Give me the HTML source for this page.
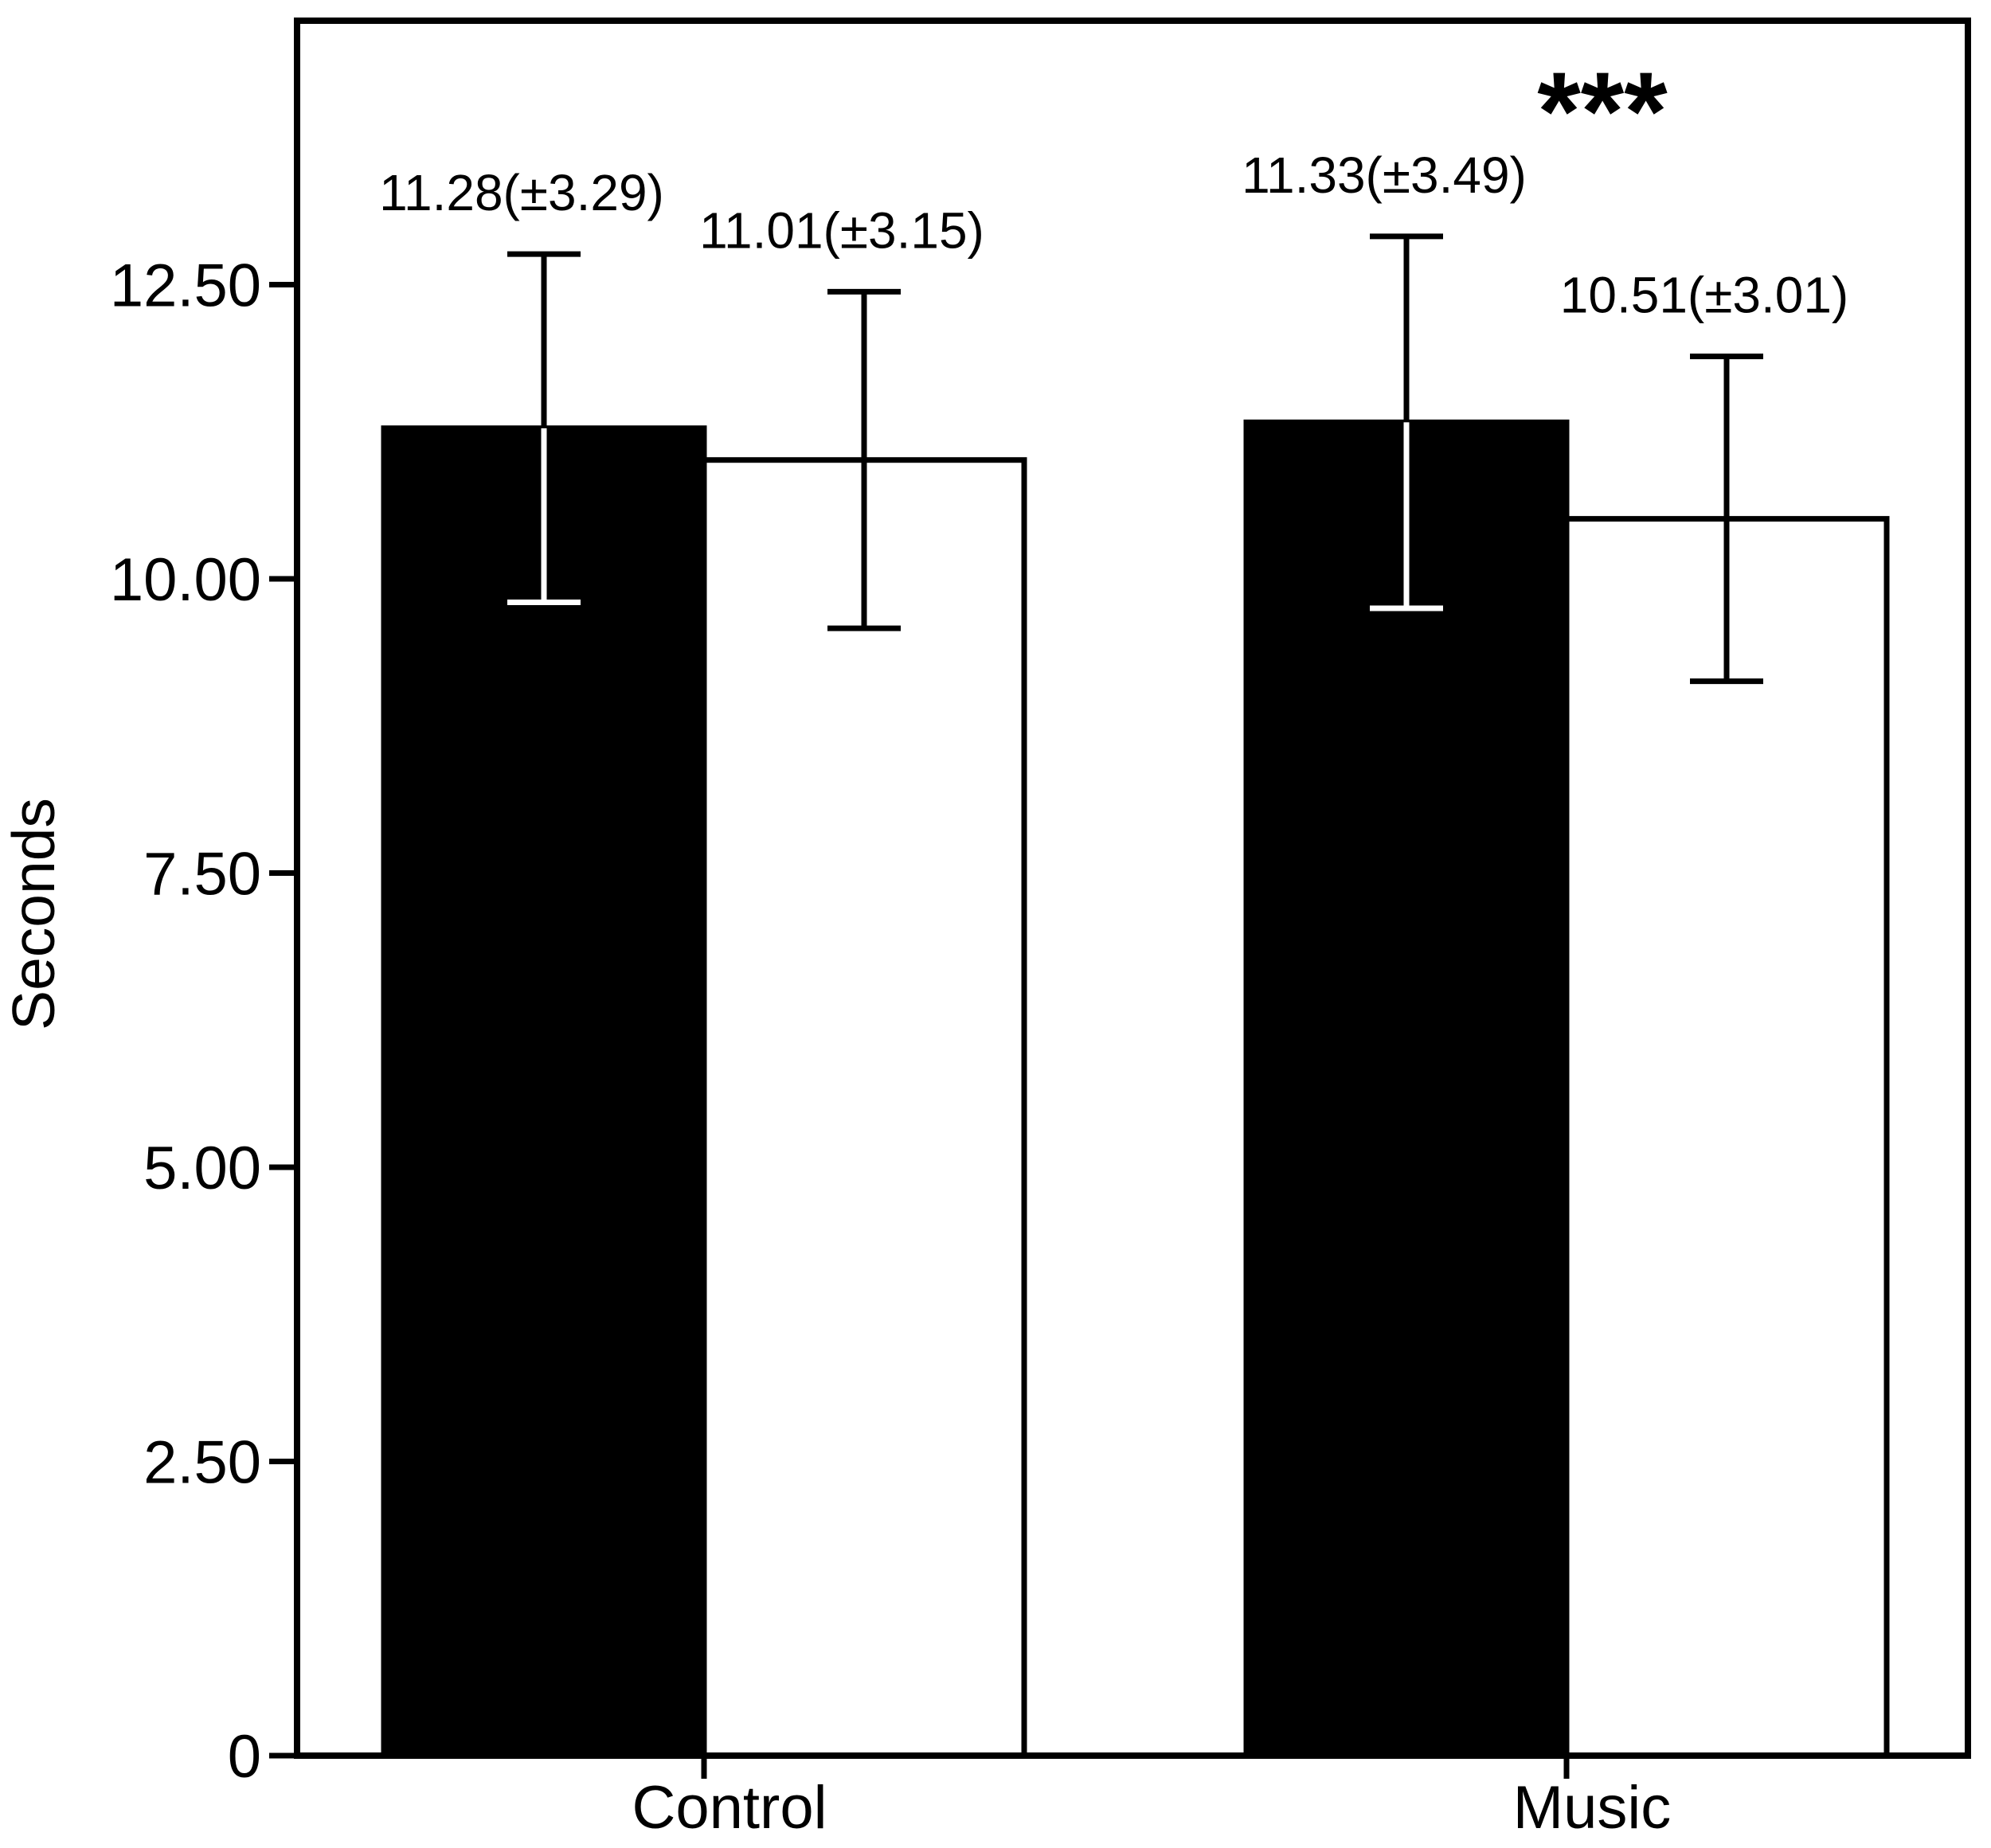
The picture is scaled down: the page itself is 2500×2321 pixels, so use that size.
<!DOCTYPE html>
<html><head><meta charset="utf-8"><style>html,body{margin:0;padding:0;background:#fff}svg{display:block}text{font-family:"Liberation Sans",Arial,sans-serif;fill:#000}</style></head>
<body>
<svg id="chart" width="2500" height="2321" viewBox="0 0 2500 2321" xmlns="http://www.w3.org/2000/svg"></svg>
<script>
const categories = ["Control", "Music"];
const blackValues = [11.28, 11.33];
const whiteValues = [11.01, 10.51];
const blackErr = [1.48, 1.58];
const whiteErr = [1.43, 1.38];
const blackLabels = ["11.28(±3.29)", "11.33(±3.49)"];
const whiteLabels = ["11.01(±3.15)", "10.51(±3.01)"];
const yTicks = [0, 2.5, 5, 7.5, 10, 12.5];
const yTickLabels = ["0", "2.50", "5.00", "7.50", "10.00", "12.50"];

const NS = "http://www.w3.org/2000/svg";
const svg = document.getElementById("chart");
const L = 373, R = 2471, T = 26, B = 2205;
const y = v => B - v * 147.8;
const catX = [884, 1967];
const barW = 402;
const SW = 7;
function el(tag, attrs, name, text) {
  const e = document.createElementNS(NS, tag);
  for (const k in attrs) e.setAttribute(k, attrs[k]);
  
  
  if (text !== undefined) e.textContent = text;
  svg.appendChild(e);
  return e;
}
el('text', {x: 48, y: 1148, 'font-size': 75, 'text-anchor': 'middle', transform: 'rotate(-90 48 1148)', 'dominant-baseline': 'middle'}, 'y-axis-title', 'Seconds');
yTicks.forEach((t, i) => {
  el('line', {x1: 338, x2: L, y1: y(t), y2: y(t), stroke: '#000', 'stroke-width': SW}, 'y-tick');
  el('text', {x: 328, y: y(t) + 27, 'font-size': 76, 'text-anchor': 'end'}, 'y-tick-label', yTickLabels[i]);
});
categories.forEach((c, i) => {
  const cx = catX[i];
  const bx = cx - barW, wx = cx;
  el('rect', {x: bx, y: y(blackValues[i]), width: barW, height: B - y(blackValues[i]), fill: '#000', stroke: '#000', 'stroke-width': SW}, 'bar-' + c.toLowerCase() + '-black');
  el('rect', {x: wx, y: y(whiteValues[i]), width: barW, height: B - y(whiteValues[i]), fill: '#fff', stroke: '#000', 'stroke-width': SW}, 'bar-' + c.toLowerCase() + '-white');
  [[bx + barW / 2, blackValues[i], blackErr[i], '#fff', blackLabels[i]], [wx + barW / 2, whiteValues[i], whiteErr[i], '#000', whiteLabels[i]]].forEach(([x, v, e, col, lab]) => {
    el('line', {x1: x, x2: x, y1: y(v + e), y2: y(v), stroke: '#000', 'stroke-width': SW}, 'error-bar-upper');
    el('line', {x1: x, x2: x, y1: y(v), y2: y(v - e), stroke: col, 'stroke-width': SW}, 'error-bar-lower');
    el('line', {x1: x - 46, x2: x + 46, y1: y(v + e), y2: y(v + e), stroke: '#000', 'stroke-width': SW}, 'error-cap-upper');
    el('line', {x1: x - 46, x2: x + 46, y1: y(v - e), y2: y(v - e), stroke: col, 'stroke-width': SW}, 'error-cap-lower');
    el('text', {x: x - 28, y: y(v + e) - 55, 'font-size': 64, 'text-anchor': 'middle'}, 'value-label', lab);
  });
  el('line', {x1: cx, x2: cx, y1: B, y2: 2234, stroke: '#000', 'stroke-width': SW}, 'x-tick');
  el('text', {x: cx + 32, y: 2296, 'font-size': 76, 'text-anchor': 'middle'}, 'x-tick-label', c);
});
el('rect', {x: L, y: T, width: R - L, height: B - T, fill: 'none', stroke: '#000', 'stroke-width': 8}, 'plot-frame');
el('text', {x: 2012, y: 188, 'font-size': 140, 'font-weight': 'bold', 'text-anchor': 'middle'}, 'significance-marker', '***');
</script>
</body></html>
